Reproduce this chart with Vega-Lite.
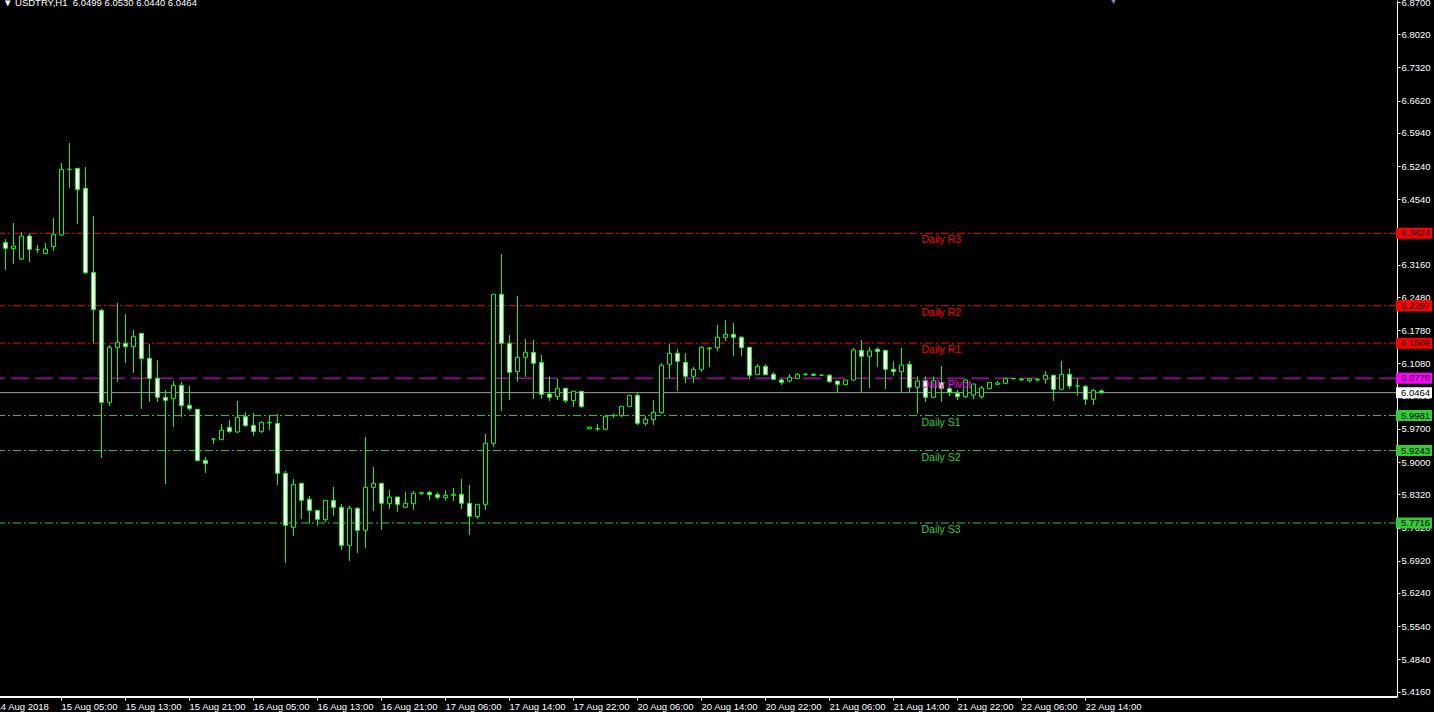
{
"$schema": "https://vega.github.io/schema/vega-lite/v6.json",
"width": 1397, "height": 697, "padding": {"left": 0, "top": 0, "right": 37, "bottom": 15}, "autosize": {"type": "none"},
"background": "#000000",
"config": {"view": {"stroke": null}, "axis": {"labelOverlap": false}, "axisY": {"labelOverlap": false}},
"title": {"text": "▼ USDTRY,H1\u00a0\u00a06.0499 6.0530 6.0440 6.0464", "anchor": "start", "frame": "group", "orient": "top", "offset": -11, "dx": 3, "font": "Liberation Sans", "fontSize": 9.5, "fontWeight": "normal", "color": "#ffffff"},
"datasets": {
"candles": [
{"t":"14 Aug 21:00","o":6.3560,"h":6.3700,"l":6.3420,"c":6.3627},
{"t":"14 Aug 22:00","o":6.3627,"h":6.3704,"l":6.3050,"c":6.3507},
{"t":"14 Aug 23:00","o":6.3500,"h":6.4041,"l":6.3184,"c":6.3556},
{"t":"15 Aug 00:00","o":6.3282,"h":6.3851,"l":6.3261,"c":6.3767},
{"t":"15 Aug 01:00","o":6.3767,"h":6.3816,"l":6.3226,"c":6.3486},
{"t":"15 Aug 02:00","o":6.3479,"h":6.3577,"l":6.3416,"c":6.3479},
{"t":"15 Aug 03:00","o":6.3395,"h":6.3620,"l":6.3395,"c":6.3493},
{"t":"15 Aug 04:00","o":6.3542,"h":6.4147,"l":6.3458,"c":6.3802},
{"t":"15 Aug 05:00","o":6.3788,"h":6.5306,"l":6.3767,"c":6.5173},
{"t":"15 Aug 06:00","o":6.5173,"h":6.5728,"l":6.4786,"c":6.5173},
{"t":"15 Aug 07:00","o":6.5194,"h":6.5194,"l":6.4027,"c":6.4744},
{"t":"15 Aug 08:00","o":6.4772,"h":6.5222,"l":6.2973,"c":6.2994},
{"t":"15 Aug 09:00","o":6.3001,"h":6.4189,"l":6.1504,"c":6.2214},
{"t":"15 Aug 10:00","o":6.2200,"h":6.2228,"l":5.9094,"c":6.0260},
{"t":"15 Aug 11:00","o":6.0260,"h":6.1469,"l":6.0190,"c":6.1420},
{"t":"15 Aug 12:00","o":6.1413,"h":6.2355,"l":6.0696,"c":6.1525},
{"t":"15 Aug 13:00","o":6.1504,"h":6.2123,"l":6.1097,"c":6.1434},
{"t":"15 Aug 14:00","o":6.1434,"h":6.1785,"l":6.0886,"c":6.1652},
{"t":"15 Aug 15:00","o":6.1715,"h":6.1715,"l":6.0127,"c":6.1181},
{"t":"15 Aug 16:00","o":6.1188,"h":6.1490,"l":6.0274,"c":6.0766},
{"t":"15 Aug 17:00","o":6.0766,"h":6.1153,"l":6.0274,"c":6.0366},
{"t":"15 Aug 18:00","o":6.0366,"h":6.0520,"l":5.8538,"c":6.0302},
{"t":"15 Aug 19:00","o":6.0337,"h":6.0710,"l":5.9747,"c":6.0619},
{"t":"15 Aug 20:00","o":6.0619,"h":6.0682,"l":5.9958,"c":6.0190},
{"t":"15 Aug 21:00","o":6.0197,"h":6.0605,"l":6.0084,"c":6.0127},
{"t":"15 Aug 22:00","o":6.0113,"h":6.0113,"l":5.9030,"c":5.9030},
{"t":"15 Aug 23:00","o":5.9037,"h":5.9101,"l":5.8777,"c":5.8967},
{"t":"16 Aug 00:00","o":5.9487,"h":5.9508,"l":5.9382,"c":5.9487},
{"t":"16 Aug 01:00","o":5.9473,"h":5.9803,"l":5.9473,"c":5.9670},
{"t":"16 Aug 02:00","o":5.9733,"h":5.9881,"l":5.9621,"c":5.9642},
{"t":"16 Aug 03:00","o":5.9635,"h":6.0288,"l":5.9614,"c":5.9944},
{"t":"16 Aug 04:00","o":5.9958,"h":6.0049,"l":5.9747,"c":5.9768},
{"t":"16 Aug 05:00","o":5.9775,"h":6.0035,"l":5.9557,"c":5.9642},
{"t":"16 Aug 06:00","o":5.9642,"h":5.9860,"l":5.9621,"c":5.9838},
{"t":"16 Aug 07:00","o":5.9824,"h":5.9993,"l":5.9677,"c":5.9838},
{"t":"16 Aug 08:00","o":5.9817,"h":6.0014,"l":5.8524,"c":5.8763},
{"t":"16 Aug 09:00","o":5.8763,"h":5.8812,"l":5.6880,"c":5.7667},
{"t":"16 Aug 10:00","o":5.7625,"h":5.8644,"l":5.7449,"c":5.8531},
{"t":"16 Aug 11:00","o":5.8552,"h":5.8552,"l":5.7807,"c":5.8194},
{"t":"16 Aug 12:00","o":5.8215,"h":5.8285,"l":5.7709,"c":5.7983},
{"t":"16 Aug 13:00","o":5.7983,"h":5.7983,"l":5.7660,"c":5.7793},
{"t":"16 Aug 14:00","o":5.7786,"h":5.8194,"l":5.7744,"c":5.8194},
{"t":"16 Aug 15:00","o":5.8194,"h":5.8475,"l":5.7871,"c":5.8046},
{"t":"16 Aug 16:00","o":5.8046,"h":5.8110,"l":5.7154,"c":5.7245},
{"t":"16 Aug 17:00","o":5.7245,"h":5.8075,"l":5.6922,"c":5.8025},
{"t":"16 Aug 18:00","o":5.8025,"h":5.8053,"l":5.7091,"c":5.7561},
{"t":"16 Aug 19:00","o":5.7561,"h":5.9529,"l":5.7196,"c":5.8468},
{"t":"16 Aug 20:00","o":5.8468,"h":5.8890,"l":5.7976,"c":5.8552},
{"t":"16 Aug 21:00","o":5.8552,"h":5.8552,"l":5.7575,"c":5.8131},
{"t":"16 Aug 22:00","o":5.8124,"h":5.8405,"l":5.8018,"c":5.8264},
{"t":"16 Aug 23:00","o":5.8264,"h":5.8264,"l":5.7955,"c":5.8110},
{"t":"17 Aug 01:00","o":5.8046,"h":5.8370,"l":5.8046,"c":5.8131},
{"t":"17 Aug 02:00","o":5.8124,"h":5.8391,"l":5.7997,"c":5.8342},
{"t":"17 Aug 03:00","o":5.8342,"h":5.8356,"l":5.8306,"c":5.8356},
{"t":"17 Aug 04:00","o":5.8363,"h":5.8384,"l":5.8208,"c":5.8313},
{"t":"17 Aug 05:00","o":5.8313,"h":5.8363,"l":5.8215,"c":5.8257},
{"t":"17 Aug 06:00","o":5.8250,"h":5.8405,"l":5.8194,"c":5.8299},
{"t":"17 Aug 07:00","o":5.8299,"h":5.8454,"l":5.8187,"c":5.8320},
{"t":"17 Aug 08:00","o":5.8320,"h":5.8644,"l":5.8018,"c":5.8131},
{"t":"17 Aug 09:00","o":5.8131,"h":5.8517,"l":5.7470,"c":5.7857},
{"t":"17 Aug 10:00","o":5.7850,"h":5.8110,"l":5.7807,"c":5.8110},
{"t":"17 Aug 11:00","o":5.8110,"h":5.9593,"l":5.7990,"c":5.9396},
{"t":"17 Aug 12:00","o":5.9396,"h":6.2545,"l":5.9325,"c":6.2538},
{"t":"17 Aug 13:00","o":6.2538,"h":6.3388,"l":6.0084,"c":6.1505},
{"t":"17 Aug 14:00","o":6.1504,"h":6.1680,"l":6.0310,"c":6.0893},
{"t":"17 Aug 15:00","o":6.0907,"h":6.2502,"l":6.0696,"c":6.1209},
{"t":"17 Aug 16:00","o":6.1209,"h":6.1596,"l":6.0802,"c":6.1315},
{"t":"17 Aug 17:00","o":6.1315,"h":6.1575,"l":6.0338,"c":6.1083},
{"t":"17 Aug 18:00","o":6.1104,"h":6.1258,"l":6.0338,"c":6.0429},
{"t":"17 Aug 19:00","o":6.0436,"h":6.0802,"l":6.0296,"c":6.0366},
{"t":"17 Aug 20:00","o":6.0380,"h":6.0759,"l":6.0310,"c":6.0556},
{"t":"17 Aug 21:00","o":6.0556,"h":6.0556,"l":6.0253,"c":6.0296},
{"t":"17 Aug 22:00","o":6.0296,"h":6.0492,"l":6.0169,"c":6.0492},
{"t":"17 Aug 23:00","o":6.0492,"h":6.0492,"l":6.0148,"c":6.0169},
{"t":"20 Aug 00:00","o":5.9705,"h":5.9740,"l":5.9705,"c":5.9740},
{"t":"20 Aug 01:00","o":5.9698,"h":5.9804,"l":5.9656,"c":5.9705},
{"t":"20 Aug 02:00","o":5.9691,"h":5.9986,"l":5.9691,"c":5.9965},
{"t":"20 Aug 03:00","o":5.9979,"h":6.0021,"l":5.9937,"c":5.9986},
{"t":"20 Aug 04:00","o":5.9979,"h":6.0176,"l":5.9958,"c":6.0176},
{"t":"20 Aug 05:00","o":6.0169,"h":6.0408,"l":6.0169,"c":6.0408},
{"t":"20 Aug 06:00","o":6.0408,"h":6.0471,"l":5.9783,"c":5.9818},
{"t":"20 Aug 07:00","o":5.9811,"h":5.9965,"l":5.9769,"c":5.9902},
{"t":"20 Aug 08:00","o":5.9895,"h":6.0310,"l":5.9790,"c":6.0050},
{"t":"20 Aug 09:00","o":6.0043,"h":6.1083,"l":6.0022,"c":6.1041},
{"t":"20 Aug 10:00","o":6.1062,"h":6.1483,"l":6.0766,"c":6.1294},
{"t":"20 Aug 11:00","o":6.1294,"h":6.1378,"l":6.0506,"c":6.1125},
{"t":"20 Aug 12:00","o":6.1104,"h":6.1294,"l":6.0675,"c":6.0809},
{"t":"20 Aug 13:00","o":6.0809,"h":6.0998,"l":6.0675,"c":6.0956},
{"t":"20 Aug 14:00","o":6.0956,"h":6.1434,"l":6.0907,"c":6.1420},
{"t":"20 Aug 15:00","o":6.1392,"h":6.1420,"l":6.1012,"c":6.1406},
{"t":"20 Aug 16:00","o":6.1413,"h":6.1891,"l":6.1350,"c":6.1631},
{"t":"20 Aug 17:00","o":6.1631,"h":6.1996,"l":6.1560,"c":6.1694},
{"t":"20 Aug 18:00","o":6.1694,"h":6.1933,"l":6.1244,"c":6.1631},
{"t":"20 Aug 19:00","o":6.1631,"h":6.1659,"l":6.1244,"c":6.1413},
{"t":"20 Aug 20:00","o":6.1420,"h":6.1420,"l":6.0745,"c":6.0830},
{"t":"20 Aug 21:00","o":6.0844,"h":6.1062,"l":6.0844,"c":6.1019},
{"t":"20 Aug 22:00","o":6.1019,"h":6.1062,"l":6.0830,"c":6.0844},
{"t":"20 Aug 23:00","o":6.0851,"h":6.0893,"l":6.0731,"c":6.0745},
{"t":"21 Aug 00:00","o":6.0731,"h":6.0759,"l":6.0633,"c":6.0682},
{"t":"21 Aug 01:00","o":6.0710,"h":6.0851,"l":6.0682,"c":6.0787},
{"t":"21 Aug 02:00","o":6.0766,"h":6.0872,"l":6.0766,"c":6.0851},
{"t":"21 Aug 03:00","o":6.0851,"h":6.0879,"l":6.0823,"c":6.0851},
{"t":"21 Aug 04:00","o":6.0851,"h":6.0879,"l":6.0823,"c":6.0830},
{"t":"21 Aug 05:00","o":6.0830,"h":6.0851,"l":6.0816,"c":6.0830},
{"t":"21 Aug 06:00","o":6.0830,"h":6.0851,"l":6.0675,"c":6.0696},
{"t":"21 Aug 07:00","o":6.0710,"h":6.0710,"l":6.0485,"c":6.0640},
{"t":"21 Aug 08:00","o":6.0633,"h":6.0731,"l":6.0633,"c":6.0731},
{"t":"21 Aug 09:00","o":6.0731,"h":6.1399,"l":6.0710,"c":6.1364},
{"t":"21 Aug 10:00","o":6.1357,"h":6.1574,"l":6.0478,"c":6.1230},
{"t":"21 Aug 11:00","o":6.1230,"h":6.1420,"l":6.0562,"c":6.1343},
{"t":"21 Aug 12:00","o":6.1378,"h":6.1413,"l":6.1012,"c":6.1329},
{"t":"21 Aug 13:00","o":6.1357,"h":6.1357,"l":6.0541,"c":6.0956},
{"t":"21 Aug 14:00","o":6.0956,"h":6.1118,"l":6.0823,"c":6.0907},
{"t":"21 Aug 15:00","o":6.0907,"h":6.1406,"l":6.0478,"c":6.1047},
{"t":"21 Aug 16:00","o":6.1062,"h":6.1132,"l":6.0478,"c":6.0577},
{"t":"21 Aug 17:00","o":6.0577,"h":6.0801,"l":6.0029,"c":6.0710},
{"t":"21 Aug 18:00","o":6.0717,"h":6.0801,"l":6.0274,"c":6.0365},
{"t":"21 Aug 19:00","o":6.0365,"h":6.0801,"l":6.0365,"c":6.0717},
{"t":"21 Aug 20:00","o":6.0675,"h":6.1026,"l":6.0274,"c":6.0555},
{"t":"21 Aug 21:00","o":6.0548,"h":6.0590,"l":6.0393,"c":6.0464},
{"t":"21 Aug 22:00","o":6.0450,"h":6.0520,"l":6.0309,"c":6.0379},
{"t":"21 Aug 23:00","o":6.0379,"h":6.0745,"l":6.0358,"c":6.0731},
{"t":"22 Aug 00:00","o":6.0415,"h":6.0647,"l":6.0330,"c":6.0647},
{"t":"22 Aug 01:00","o":6.0379,"h":6.0604,"l":6.0344,"c":6.0562},
{"t":"22 Aug 02:00","o":6.0548,"h":6.0682,"l":6.0548,"c":6.0682},
{"t":"22 Aug 03:00","o":6.0640,"h":6.0710,"l":6.0640,"c":6.0668},
{"t":"22 Aug 04:00","o":6.0661,"h":6.0766,"l":6.0647,"c":6.0766},
{"t":"22 Aug 05:00","o":6.0759,"h":6.0773,"l":6.0745,"c":6.0766},
{"t":"22 Aug 06:00","o":6.0745,"h":6.0773,"l":6.0717,"c":6.0731},
{"t":"22 Aug 07:00","o":6.0717,"h":6.0773,"l":6.0696,"c":6.0759},
{"t":"22 Aug 08:00","o":6.0745,"h":6.0766,"l":6.0703,"c":6.0731},
{"t":"22 Aug 09:00","o":6.0745,"h":6.0914,"l":6.0661,"c":6.0829},
{"t":"22 Aug 10:00","o":6.0829,"h":6.0843,"l":6.0295,"c":6.0534},
{"t":"22 Aug 11:00","o":6.0534,"h":6.1131,"l":6.0534,"c":6.0850},
{"t":"22 Aug 12:00","o":6.0850,"h":6.0970,"l":6.0548,"c":6.0604},
{"t":"22 Aug 13:00","o":6.0604,"h":6.0766,"l":6.0407,"c":6.0604},
{"t":"22 Aug 14:00","o":6.0597,"h":6.0618,"l":6.0211,"c":6.0323},
{"t":"22 Aug 15:00","o":6.0323,"h":6.0534,"l":6.0211,"c":6.0513},
{"t":"22 Aug 16:00","o":6.0499,"h":6.0530,"l":6.0440,"c":6.0464}
],
"levels": [
{"name":"Daily R3","kind":"R","v":6.3824},
{"name":"Daily R2","kind":"R","v":6.2297},
{"name":"Daily R1","kind":"R","v":6.1508},
{"name":"Daily Pivot","kind":"P","v":6.0770},
{"name":"Daily S1","kind":"S","v":5.9981},
{"name":"Daily S2","kind":"S","v":5.9243},
{"name":"Daily S3","kind":"S","v":5.7716},
{"name":"Close","kind":"C","v":6.0464}
]
},
"resolve": {"scale": {"x": "shared", "y": "shared"}},
"layer": [
{
"data": {"name": "candles"},
"mark": {"type": "rule", "color": "#00ff00", "strokeWidth": 1},
"encoding": {
"x": {"field": "t", "type": "ordinal", "title": null, "scale": {"type": "band", "range": [-6.5, 1105.5], "paddingInner": 0, "paddingOuter": 0},
"axis": {"orient": "bottom", "values": ["14 Aug 21:00", "15 Aug 05:00", "15 Aug 13:00", "15 Aug 21:00", "16 Aug 05:00", "16 Aug 13:00", "16 Aug 21:00", "17 Aug 06:00", "17 Aug 14:00", "17 Aug 22:00", "20 Aug 06:00", "20 Aug 14:00", "20 Aug 22:00", "21 Aug 06:00", "21 Aug 14:00", "21 Aug 22:00", "22 Aug 06:00", "22 Aug 14:00"],
"labelExpr": "datum.value == '14 Aug 21:00' ? '14 Aug 2018' : datum.label", "labelAlign": "left", "labelAngle": 0, "labelBaseline": "top", "labelColor": "#ffffff", "labelFont": "Liberation Sans", "labelFontSize": 9.5, "labelPadding": 1, "labelOffset": {"condition": {"test": "datum.value == '14 Aug 21:00'", "value": -2}, "value": 0}, "tickSize": 3, "tickColor": "#ffffff", "domain": false, "grid": false, "labelOverlap": false, "labelBound": false, "labelFlush": false, "title": null}},
"y": {"field": "l", "type": "quantitative", "title": null, "scale": {"domain": [5.4047, 6.8743], "nice": false, "zero": false},
"axis": {"orient": "right", "values": [6.87, 6.802, 6.732, 6.662, 6.594, 6.524, 6.454, 6.385, 6.316, 6.248, 6.178, 6.108, 6.04, 5.97, 5.9, 5.832, 5.762, 5.692, 5.624, 5.554, 5.484, 5.416], "tickCount": 40, "format": ".4f", "labelColor": "#ffffff", "labelFont": "Liberation Sans", "labelFontSize": 9.5, "tickSize": 3, "tickColor": "#ffffff", "domainColor": "#ffffff", "labelPadding": 1, "grid": false, "labelOverlap": false, "labelBound": false, "labelFlush": false, "title": null}},
"y2": {"field": "h"}
}
},
{
"data": {"name": "levels"},
"transform": [{"filter": "datum.kind != 'C'"}],
"mark": {"type": "rule", "strokeWidth": 1},
"encoding": {
"y": {"field": "v", "type": "quantitative", "title": null},
"color": {"field": "kind", "type": "nominal", "legend": null, "scale": {"domain": ["R", "P", "S", "C"], "range": ["#ff0000", "#ff00ff", "#32cd32", "#ffffff"]}},
"strokeDash": {"field": "kind", "type": "nominal", "legend": null, "scale": {"domain": ["R", "P", "S"], "range": [[8, 3, 2, 3], [18, 6], [8, 3, 2, 3]]}}
}
},
{
"data": {"name": "levels"},
"transform": [{"filter": "datum.kind == 'C'"}],
"mark": {"type": "rule", "strokeWidth": 1, "color": "#a0a0a0"},
"encoding": {"y": {"field": "v", "type": "quantitative", "title": null}}
},
{
"data": {"name": "candles"},
"mark": {"type": "rule", "color": "#00ff00", "strokeWidth": 1},
"encoding": {
"x": {"field": "t", "type": "ordinal", "title": null},
"y": {"field": "l", "type": "quantitative", "title": null},
"y2": {"field": "h"}
}
},
{
"data": {"name": "candles"},
"mark": {"type": "bar", "size": 4, "stroke": "#00ff00", "strokeWidth": 1},
"encoding": {
"x": {"field": "t", "type": "ordinal", "title": null},
"y": {"field": "o", "type": "quantitative", "title": null},
"y2": {"field": "c"},
"fill": {"condition": {"test": "datum.c < datum.o", "value": "#ffffff"}, "value": "#000000"}
}
},
{
"data": {"name": "levels"},
"mark": {"type": "rule", "color": "#ffffff", "strokeWidth": 1},
"encoding": {"y": {"datum": 5.4047, "type": "quantitative"}}
},
{
"data": {"name": "levels"},
"transform": [{"filter": "datum.kind != 'C'"}],
"mark": {"type": "text", "align": "left", "baseline": "middle", "dx": 4, "dy": 7, "font": "Liberation Sans", "fontSize": 10.5},
"encoding": {
"x": {"datum": "21 Aug 17:00", "type": "ordinal"},
"y": {"field": "v", "type": "quantitative", "title": null},
"text": {"field": "name"},
"color": {"field": "kind", "type": "nominal", "legend": null}
}
},
{
"data": {"values": [{"m": "▼"}]},
"mark": {"type": "text", "align": "center", "baseline": "middle", "dx": 12, "font": "DejaVu Sans", "fontSize": 9, "color": "#8090a8"},
"encoding": {
"x": {"datum": "22 Aug 16:00", "type": "ordinal"},
"y": {"datum": 6.8743, "type": "quantitative"},
"text": {"field": "m"}
}
},
{
"data": {"name": "levels"},
"mark": {"type": "rule", "strokeWidth": 11, "strokeCap": "butt"},
"encoding": {
"x": {"value": {"expr": "width - 1"}},
"x2": {"value": {"expr": "width + 35"}},
"y": {"field": "v", "type": "quantitative", "title": null},
"color": {"field": "kind", "type": "nominal", "legend": null}
}
},
{
"data": {"name": "levels"},
"mark": {"type": "text", "align": "left", "baseline": "middle", "dx": 4, "font": "Liberation Sans", "fontSize": 9.5, "color": "#000000"},
"encoding": {
"x": {"value": "width"},
"y": {"field": "v", "type": "quantitative", "title": null},
"text": {"field": "v", "type": "quantitative", "format": ".4f"}
}
}
]
}
